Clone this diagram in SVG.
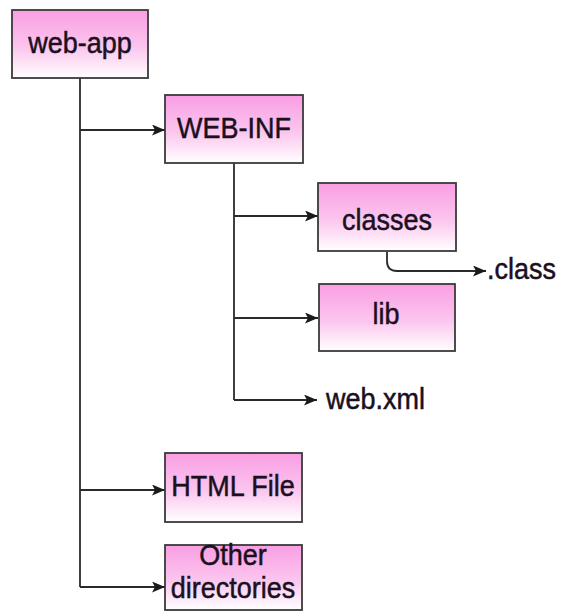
<svg xmlns="http://www.w3.org/2000/svg" width="561" height="616" viewBox="0 0 561 616">
<style>
.box{stroke:#3a3a3a;stroke-width:1.8;fill:url(#pg)}
.t{font-family:"Liberation Sans",Arial,sans-serif;font-size:27px;fill:#1a1020;stroke:#1a1020;stroke-width:0.45;text-anchor:middle}
.tl{font-family:"Liberation Sans",Arial,sans-serif;font-size:27px;fill:#1a1020;stroke:#1a1020;stroke-width:0.45}
.c{stroke:#2a2a2a;stroke-width:1.8;fill:none}
</style>
<defs>
<linearGradient id="pg" x1="0" y1="0" x2="0" y2="1">
<stop offset="0" stop-color="#f99ee3"/>
<stop offset="0.55" stop-color="#fbc6ee"/>
<stop offset="1" stop-color="#ffffff"/>
</linearGradient>
<marker id="ah" viewBox="0 0 13 11" refX="13" refY="5.5" markerWidth="13" markerHeight="11" markerUnits="userSpaceOnUse" orient="auto">
<path d="M0,0 L13,5.5 L0,11 L3,5.5 Z" fill="#1a1a1a"/>
</marker>
</defs>
<rect width="561" height="616" fill="#ffffff"/>
<g id="connectors">
<path class="c" d="M80,78 V587"/>
<path class="c" d="M80,130 H165" marker-end="url(#ah)"/>
<path class="c" d="M80,490 H165" marker-end="url(#ah)"/>
<path class="c" d="M80,587 H165" marker-end="url(#ah)"/>
<path class="c" d="M234,163 V400"/>
<path class="c" d="M234,216 H318" marker-end="url(#ah)"/>
<path class="c" d="M234,318 H318" marker-end="url(#ah)"/>
<path class="c" d="M234,400 H317" marker-end="url(#ah)"/>
<path class="c" d="M387,252 V261 Q387,271 397,271 H486" marker-end="url(#ah)"/>
</g>
<g id="web-app">
<rect class="box" x="12" y="10" width="136" height="68"/>
<text class="t" transform="translate(80,53) scale(1,1.12)">web-app</text>
</g>
<g id="web-inf">
<rect class="box" x="165" y="95" width="138" height="68"/>
<text class="t" transform="translate(234,138) scale(1,1.12)">WEB-INF</text>
</g>
<g id="classes">
<rect class="box" x="318" y="183" width="138" height="68"/>
<text class="t" transform="translate(387,230) scale(1,1.12)">classes</text>
</g>
<g id="class-file">
<text class="tl" transform="translate(487,279) scale(1,1.12)">.class</text>
</g>
<g id="lib">
<rect class="box" x="319" y="284" width="136" height="67"/>
<text class="t" transform="translate(386,324) scale(1,1.12)">lib</text>
</g>
<g id="web-xml">
<text class="tl" transform="translate(326,409) scale(1,1.12)">web.xml</text>
</g>
<g id="html-file">
<rect class="box" x="165" y="453" width="137" height="69"/>
<text class="t" transform="translate(233,496) scale(1,1.12)">HTML File</text>
</g>
<g id="other-directories">
<rect class="box" x="165" y="545" width="137" height="65"/>
<text class="t" transform="translate(233,565) scale(1,1.12)">Other</text>
<text class="t" transform="translate(233,598) scale(1,1.12)">directories</text>
</g>
</svg>
